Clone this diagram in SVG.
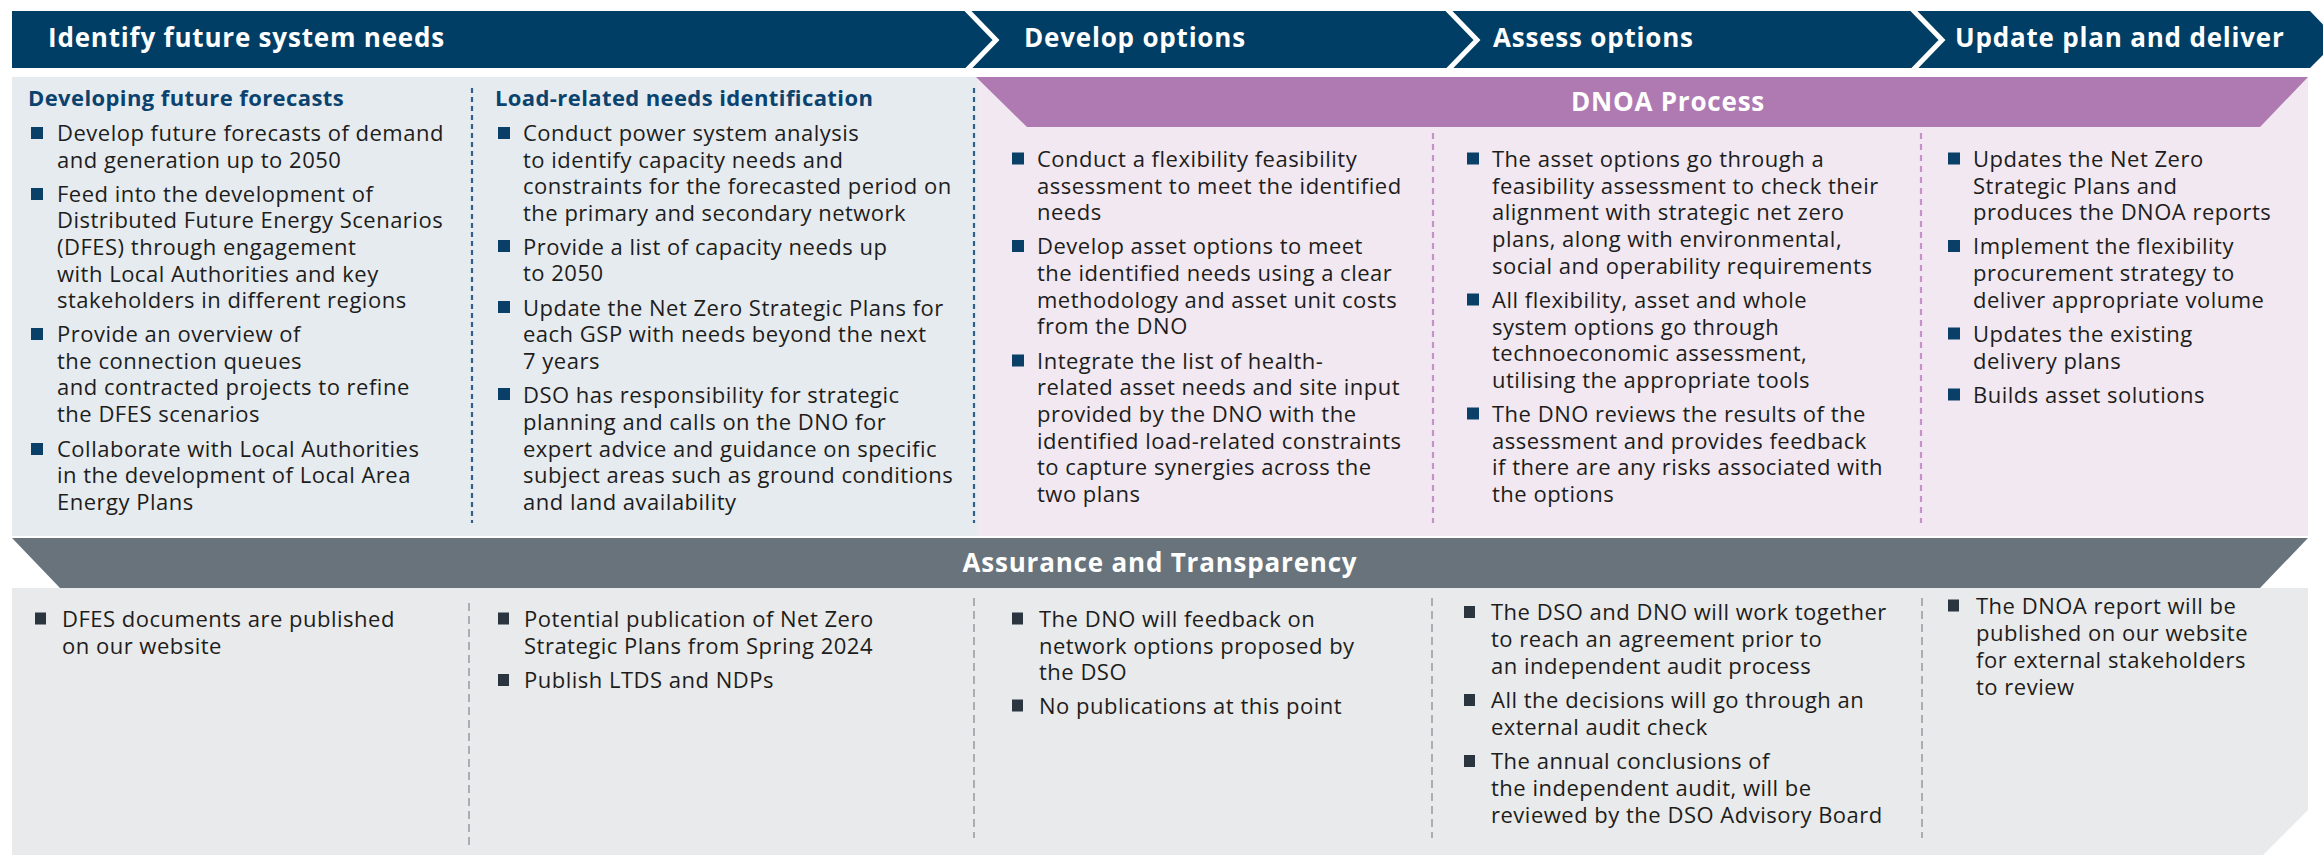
<svg xmlns="http://www.w3.org/2000/svg" width="2323" height="855" viewBox="0 0 2323 855">
<style>
.t{font-family:"Open Sans","Noto Sans",sans-serif;font-size:22px;fill:#1d1d1b;letter-spacing:0.5px}
.h{font-family:"Open Sans","Noto Sans",sans-serif;font-size:22px;font-weight:700;fill:#0b436e;letter-spacing:0.4px}
.hd{font-family:"Open Sans","Noto Sans",sans-serif;font-size:26px;font-weight:700;fill:#ffffff;letter-spacing:0.8px}
.bt{fill:#0a4068}
.bb{fill:#2a3540}
.dblue{stroke:#2f5f88;stroke-width:2.2;stroke-dasharray:5 4;fill:none}
.dpur{stroke:#c690c8;stroke-width:2.2;stroke-dasharray:6 5;fill:none}
.dgrey{stroke:#9c9fa3;stroke-width:1.6;stroke-dasharray:8 5;fill:none}
.sep{stroke:#ffffff;stroke-width:5;fill:none}
</style>

<!-- backgrounds -->
<g id="backgrounds">
  <rect x="12" y="77" width="965" height="459" fill="#e6ebf0"/>
  <rect x="977" y="77" width="1331" height="459" fill="#f1e8f2"/>
  <polygon points="12,588 2308,588 2308,810 2263,855 12,855" fill="#e9eaec"/>
</g>

<!-- stage header -->
<g id="stage-header">
  <polygon points="12,11 2310,11 2338,40 2310,68 12,68" fill="#003e66"/>
  <polyline class="sep" points="966,9 996,40 966,71"/>
  <polyline class="sep" points="1447,9 1477,40 1447,71"/>
  <polyline class="sep" points="1912,9 1942,40 1912,71"/>
  <text class="hd" x="48" y="47">Identify future system needs</text>
  <text class="hd" x="1024" y="47">Develop options</text>
  <text class="hd" x="1493" y="47">Assess options</text>
  <text class="hd" x="1955" y="47">Update plan and deliver</text>
</g>

<!-- DNOA band -->
<g id="dnoa-band">
  <polygon points="976,77 2308,77 2260,127 1027,127" fill="#af79b2"/>
  <text class="hd" x="1668" y="111" text-anchor="middle">DNOA Process</text>
</g>

<!-- Assurance band -->
<g id="assurance-band">
  <polygon points="12,538 2308,538 2260,588 60,588" fill="#68737c"/>
  <text class="hd" x="1160" y="572" text-anchor="middle">Assurance and Transparency</text>
</g>

<!-- dividers -->
<g id="connectors">
  <line class="dblue" x1="472" y1="88" x2="472" y2="523"/>
  <line class="dblue" x1="974" y1="88" x2="974" y2="523"/>
  <line class="dpur" x1="1433" y1="133" x2="1433" y2="523"/>
  <line class="dpur" x1="1921" y1="133" x2="1921" y2="523"/>
  <line class="dgrey" x1="469" y1="603" x2="469" y2="845"/>
  <line class="dgrey" x1="974" y1="598" x2="974" y2="838"/>
  <line class="dgrey" x1="1432" y1="598" x2="1432" y2="838"/>
  <line class="dgrey" x1="1922" y1="598" x2="1922" y2="838"/>
</g>

<!-- Column 1: Developing future forecasts -->
<g id="col-forecasts">
  <text class="h" x="28" y="106">Developing future forecasts</text>
  <rect class="bt" x="31" y="127" width="12" height="12"/>
  <rect class="bt" x="31" y="188" width="12" height="12"/>
  <rect class="bt" x="31" y="328" width="12" height="12"/>
  <rect class="bt" x="31" y="443" width="12" height="12"/>
  <text class="t">
    <tspan x="57" y="141">Develop future forecasts of demand</tspan>
    <tspan x="57" y="167.5">and generation up to 2050</tspan>
    <tspan x="57" y="201.5">Feed into the development of</tspan>
    <tspan x="57" y="228">Distributed Future Energy Scenarios</tspan>
    <tspan x="57" y="254.5">(DFES) through engagement</tspan>
    <tspan x="57" y="281.5">with Local Authorities and key</tspan>
    <tspan x="57" y="308">stakeholders in different regions</tspan>
    <tspan x="57" y="342">Provide an overview of</tspan>
    <tspan x="57" y="368.5">the connection queues</tspan>
    <tspan x="57" y="395">and contracted projects to refine</tspan>
    <tspan x="57" y="422">the DFES scenarios</tspan>
    <tspan x="57" y="456.5">Collaborate with Local Authorities</tspan>
    <tspan x="57" y="483">in the development of Local Area</tspan>
    <tspan x="57" y="510">Energy Plans</tspan>
  </text>
</g>

<!-- Column 2: Load-related needs identification -->
<g id="col-load">
  <text class="h" x="495" y="106">Load-related needs identification</text>
  <rect class="bt" x="498" y="127" width="12" height="12"/>
  <rect class="bt" x="498" y="240" width="12" height="12"/>
  <rect class="bt" x="498" y="301" width="12" height="12"/>
  <rect class="bt" x="498" y="388" width="12" height="12"/>
  <text class="t">
    <tspan x="523" y="141">Conduct power system analysis</tspan>
    <tspan x="523" y="167.5">to identify capacity needs and</tspan>
    <tspan x="523" y="194">constraints for the forecasted period on</tspan>
    <tspan x="523" y="221">the primary and secondary network</tspan>
    <tspan x="523" y="254.5">Provide a list of capacity needs up</tspan>
    <tspan x="523" y="281">to 2050</tspan>
    <tspan x="523" y="315.5">Update the Net Zero Strategic Plans for</tspan>
    <tspan x="523" y="342">each GSP with needs beyond the next</tspan>
    <tspan x="523" y="369">7 years</tspan>
    <tspan x="523" y="402.5">DSO has responsibility for strategic</tspan>
    <tspan x="523" y="429.5">planning and calls on the DNO for</tspan>
    <tspan x="523" y="456.5">expert advice and guidance on specific</tspan>
    <tspan x="523" y="483">subject areas such as ground conditions</tspan>
    <tspan x="523" y="510">and land availability</tspan>
  </text>
</g>

<!-- Column 3: Develop options -->
<g id="col-develop">
  <rect class="bt" x="1012" y="152.5" width="12" height="12"/>
  <rect class="bt" x="1012" y="240" width="12" height="12"/>
  <rect class="bt" x="1012" y="354.5" width="12" height="12"/>
  <text class="t">
    <tspan x="1037" y="166.5">Conduct a flexibility feasibility</tspan>
    <tspan x="1037" y="193.5">assessment to meet the identified</tspan>
    <tspan x="1037" y="219.5">needs</tspan>
    <tspan x="1037" y="254">Develop asset options to meet</tspan>
    <tspan x="1037" y="281">the identified needs using a clear</tspan>
    <tspan x="1037" y="307.5">methodology and asset unit costs</tspan>
    <tspan x="1037" y="333.5">from the DNO</tspan>
    <tspan x="1037" y="368.5">Integrate the list of health-</tspan>
    <tspan x="1037" y="395">related asset needs and site input</tspan>
    <tspan x="1037" y="421.5">provided by the DNO with the</tspan>
    <tspan x="1037" y="448.5">identified load-related constraints</tspan>
    <tspan x="1037" y="475">to capture synergies across the</tspan>
    <tspan x="1037" y="501.5">two plans</tspan>
  </text>
</g>

<!-- Column 4: Assess options -->
<g id="col-assess">
  <rect class="bt" x="1467" y="152.5" width="12" height="12"/>
  <rect class="bt" x="1467" y="293.5" width="12" height="12"/>
  <rect class="bt" x="1467" y="407.5" width="12" height="12"/>
  <text class="t">
    <tspan x="1492" y="166.5">The asset options go through a</tspan>
    <tspan x="1492" y="193.5">feasibility assessment to check their</tspan>
    <tspan x="1492" y="220">alignment with strategic net zero</tspan>
    <tspan x="1492" y="246.5">plans, along with environmental,</tspan>
    <tspan x="1492" y="273.5">social and operability requirements</tspan>
    <tspan x="1492" y="307.5">All flexibility, asset and whole</tspan>
    <tspan x="1492" y="334.5">system options go through</tspan>
    <tspan x="1492" y="361">technoeconomic assessment,</tspan>
    <tspan x="1492" y="387.5">utilising the appropriate tools</tspan>
    <tspan x="1492" y="421.5">The DNO reviews the results of the</tspan>
    <tspan x="1492" y="448.5">assessment and provides feedback</tspan>
    <tspan x="1492" y="475">if there are any risks associated with</tspan>
    <tspan x="1492" y="501.5">the options</tspan>
  </text>
</g>

<!-- Column 5: Update plan and deliver -->
<g id="col-update">
  <rect class="bt" x="1948" y="152.5" width="12" height="12"/>
  <rect class="bt" x="1948" y="240" width="12" height="12"/>
  <rect class="bt" x="1948" y="327.5" width="12" height="12"/>
  <rect class="bt" x="1948" y="388.5" width="12" height="12"/>
  <text class="t">
    <tspan x="1973" y="166.5">Updates the Net Zero</tspan>
    <tspan x="1973" y="193.5">Strategic Plans and</tspan>
    <tspan x="1973" y="220">produces the DNOA reports</tspan>
    <tspan x="1973" y="254">Implement the flexibility</tspan>
    <tspan x="1973" y="281">procurement strategy to</tspan>
    <tspan x="1973" y="307.5">deliver appropriate volume</tspan>
    <tspan x="1973" y="341.5">Updates the existing</tspan>
    <tspan x="1973" y="368.5">delivery plans</tspan>
    <tspan x="1973" y="402.5">Builds asset solutions</tspan>
  </text>
</g>

<!-- Assurance columns -->
<g id="assure-col1">
  <rect class="bb" x="35" y="612.5" width="11" height="12"/>
  <text class="t">
    <tspan x="62" y="626.5">DFES documents are published</tspan>
    <tspan x="62" y="653.5">on our website</tspan>
  </text>
</g>
<g id="assure-col2">
  <rect class="bb" x="498" y="612.5" width="11" height="12"/>
  <rect class="bb" x="498" y="674" width="11" height="12"/>
  <text class="t">
    <tspan x="524" y="626.5">Potential publication of Net Zero</tspan>
    <tspan x="524" y="653.5">Strategic Plans from Spring 2024</tspan>
    <tspan x="524" y="688">Publish LTDS and NDPs</tspan>
  </text>
</g>
<g id="assure-col3">
  <rect class="bb" x="1012" y="612.5" width="11" height="12"/>
  <rect class="bb" x="1012" y="699.5" width="11" height="12"/>
  <text class="t">
    <tspan x="1039" y="626.5">The DNO will feedback on</tspan>
    <tspan x="1039" y="653.5">network options proposed by</tspan>
    <tspan x="1039" y="679.5">the DSO</tspan>
    <tspan x="1039" y="713.5">No publications at this point</tspan>
  </text>
</g>
<g id="assure-col4">
  <rect class="bb" x="1464" y="606" width="11" height="12"/>
  <rect class="bb" x="1464" y="694" width="11" height="12"/>
  <rect class="bb" x="1464" y="755" width="11" height="12"/>
  <text class="t">
    <tspan x="1491" y="620">The DSO and DNO will work together</tspan>
    <tspan x="1491" y="647">to reach an agreement prior to</tspan>
    <tspan x="1491" y="674">an independent audit process</tspan>
    <tspan x="1491" y="708">All the decisions will go through an</tspan>
    <tspan x="1491" y="735">external audit check</tspan>
    <tspan x="1491" y="769">The annual conclusions of</tspan>
    <tspan x="1491" y="796">the independent audit, will be</tspan>
    <tspan x="1491" y="822.5">reviewed by the DSO Advisory Board</tspan>
  </text>
</g>
<g id="assure-col5">
  <rect class="bb" x="1948" y="599.5" width="11" height="12"/>
  <text class="t">
    <tspan x="1976" y="613.5">The DNOA report will be</tspan>
    <tspan x="1976" y="641">published on our website</tspan>
    <tspan x="1976" y="667.5">for external stakeholders</tspan>
    <tspan x="1976" y="694.5">to review</tspan>
  </text>
</g>
</svg>
